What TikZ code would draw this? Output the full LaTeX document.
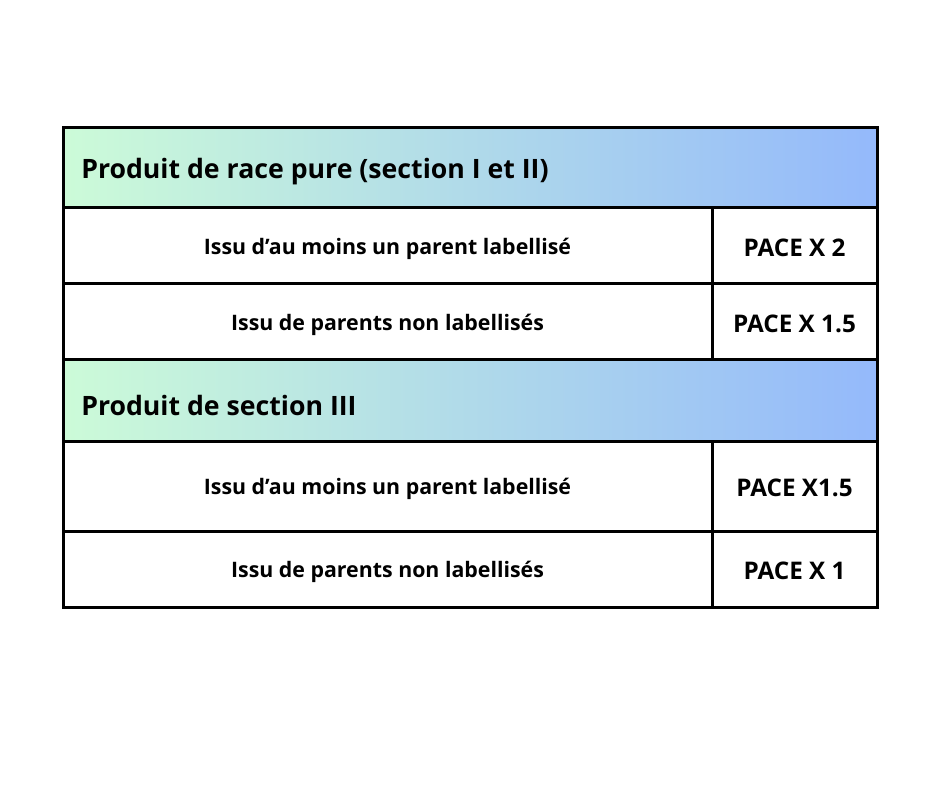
\documentclass[tikz,border=0pt]{standalone}
\usepackage{fontspec}
\setmainfont{Open Sans}
\definecolor{gstart}{RGB}{204,251,216}
\definecolor{gend}{RGB}{148,185,251}
\tikzset{
	cell/.style={draw=black, line width=2.25pt, rectangle, inner sep=0pt, outer sep=0pt, anchor=north west, fill=white},
	hdr/.style={cell, left color=gstart, right color=gend, minimum width=610.5pt, minimum height=60pt},
	hdrtxt/.style={anchor=west, inner sep=0pt, font=\bfseries\fontsize{20}{24}\selectfont},
	celltxt/.style={yshift=-2pt, font=\bfseries\fontsize{16}{19}\selectfont},
	pacetxt/.style={yshift=-1.5pt, font=\bfseries\fontsize{18.2}{22}\selectfont}
}
\begin{document}
\begin{tikzpicture}[x=0.75pt, y=-0.75pt]
	\useasboundingbox[fill=white] (0,0) rectangle (940,788);
	% first block
	\node[hdr] (H1) at (63,128) {};
	\node[hdrtxt] (h1) at (81,172) {Produit de race pure (section I et II)};
	\node[cell, minimum width=486.75pt, minimum height=57pt] (A1) at (63,208) {};
	\node[cell, minimum width=123.75pt, minimum height=57pt] (B1) at (712,208) {};
	\node[celltxt] at (A1.center) {Issu d’au moins un parent labellisé};
	\node[pacetxt] at (B1.center) {PACE X 2};
	\node[cell, minimum width=486.75pt, minimum height=57pt] (A2) at (63,284) {};
	\node[cell, minimum width=123.75pt, minimum height=57pt] (B2) at (712,284) {};
	\node[celltxt] at (A2.center) {Issu de parents non labellisés};
	\node[pacetxt] at (B2.center) {PACE X 1.5};
	
	% second block
	\node[hdr, minimum height=60.75pt] (H2) at (63,360) {};
	\node[hdrtxt] (h2) at (81,405) {Produit de section III};
	\node[cell, minimum width=486.75pt, minimum height=67.5pt] (A3) at (63,441) {};
	\node[cell, minimum width=123.75pt, minimum height=67.5pt] (B3) at (712,441) {};
	\node[celltxt] at (A3.center) {Issu d’au moins un parent labellisé};
	\node[pacetxt] at (B3.center) {PACE X1.5};
	\node[cell, minimum width=486.75pt, minimum height=57pt] (A4) at (63,531) {};
	\node[cell, minimum width=123.75pt, minimum height=57pt] (B4) at (712,531) {};
	\node[celltxt] at (A4.center) {Issu de parents non labellisés};
	\node[pacetxt] at (B4.center) {PACE X 1};
\end{tikzpicture}
\end{document}
